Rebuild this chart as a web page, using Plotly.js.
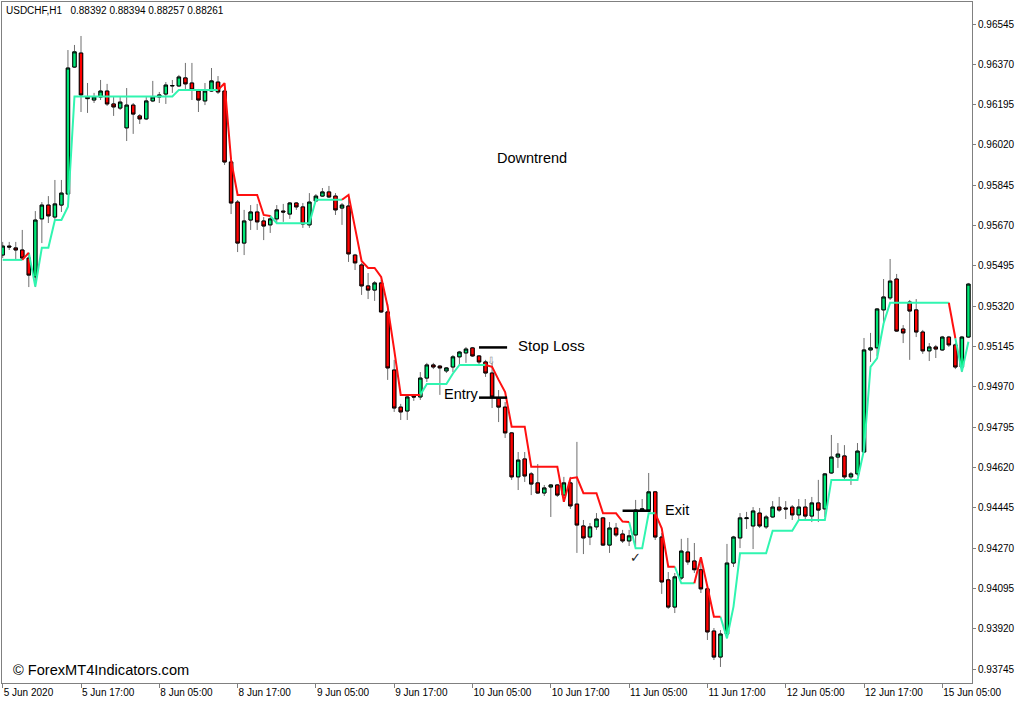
<!DOCTYPE html>
<html><head><meta charset="utf-8">
<script src="https://cdn.plot.ly/plotly-3.0.1.min.js"></script>
<style>html,body{margin:0;padding:0;background:#fff}#chart{width:1024px;height:704px}</style>
</head><body><div id="chart"></div>
<script>
// USDCHF H1 bars, 5 Jun 2020 05:00 .. 15 Jun 2020 09:00 (bar index 0..148)
const open = [0.95542,0.95581,0.95573,0.95564,0.95529,0.95447,0.95699,0.95759,0.95707,0.95759,
0.95807,0.96358,0.96419,0.96228,0.96215,0.96228,0.96254,0.96198,0.96180,0.96094,
0.96193,0.96146,0.96133,0.96211,0.96228,0.96241,0.96276,0.96276,0.96311,0.96289,
0.96254,0.96211,0.96254,0.96293,0.96254,0.95946,0.95772,0.95594,0.95694,0.95729,
0.95690,0.95673,0.95699,0.95733,0.95720,0.95768,0.95751,0.95673,0.95777,0.95798,
0.95816,0.95798,0.95746,0.95755,0.95542,0.95499,0.95408,0.95390,0.95421,0.95295,
0.95043,0.94882,0.94865,0.94930,0.94926,0.95008,0.95065,0.95060,0.95039,0.95056,
0.95100,0.95117,0.95139,0.95104,0.95078,0.95030,0.94922,0.94882,0.94770,0.94579,
0.94657,0.94592,0.94553,0.94509,0.94535,0.94544,0.94500,0.94553,0.94461,0.94366,
0.94318,0.94362,0.94401,0.94283,0.94357,0.94331,0.94301,0.94327,0.94435,0.94435,
0.94514,0.94318,0.94132,0.94014,0.94140,0.94253,0.94214,0.94176,0.94093,0.93910,
0.93797,0.93897,0.94205,0.94314,0.94398,0.94366,0.94422,0.94362,0.94405,0.94448,
0.94444,0.94448,0.94414,0.94448,0.94409,0.94466,0.94440,0.94596,0.94665,0.94670,
0.94579,0.94592,0.94687,0.95130,0.95139,0.95304,0.95356,0.95438,0.95221,0.95338,
0.95304,0.95208,0.95126,0.95143,0.95130,0.95186,0.95152,0.95056,0.95186];
const high = [0.95599,0.95599,0.95599,0.95651,0.95551,0.95733,0.95772,0.95798,0.95868,0.95868,
0.96432,0.96454,0.96493,0.96289,0.96246,0.96302,0.96285,0.96228,0.96228,0.96267,
0.96202,0.96154,0.96228,0.96298,0.96250,0.96293,0.96302,0.96324,0.96376,0.96376,
0.96263,0.96289,0.96354,0.96319,0.96263,0.95955,0.95781,0.95738,0.95759,0.95764,
0.95707,0.95716,0.95759,0.95764,0.95772,0.95772,0.95768,0.95811,0.95807,0.95833,
0.95842,0.95811,0.95768,0.95803,0.95547,0.95508,0.95464,0.95429,0.95434,0.95329,
0.95087,0.94896,0.94935,0.94939,0.95034,0.95074,0.95074,0.95065,0.95056,0.95108,
0.95126,0.95143,0.95143,0.95108,0.95087,0.95074,0.94956,0.94904,0.94774,0.94687,
0.94687,0.94600,0.94635,0.94544,0.94548,0.94548,0.94579,0.94579,0.94731,0.94392,
0.94379,0.94422,0.94405,0.94383,0.94379,0.94349,0.94349,0.94479,0.94483,0.94596,
0.94518,0.94336,0.94166,0.94162,0.94310,0.94314,0.94292,0.94227,0.94101,0.93923,
0.93914,0.94288,0.94323,0.94422,0.94427,0.94448,0.94444,0.94414,0.94474,0.94492,
0.94474,0.94457,0.94483,0.94483,0.94492,0.94566,0.94596,0.94761,0.94726,0.94717,
0.94600,0.94726,0.95182,0.95204,0.95312,0.95438,0.95525,0.95460,0.95238,0.95347,
0.95351,0.95217,0.95160,0.95152,0.95191,0.95191,0.95160,0.95191,0.95421];
const low = [0.95529,0.95564,0.95521,0.95521,0.95403,0.95403,0.95594,0.95681,0.95694,0.95729,
0.95803,0.96354,0.96163,0.96159,0.96202,0.96215,0.96189,0.96146,0.96172,0.96037,
0.96068,0.96111,0.96128,0.96206,0.96202,0.96198,0.96246,0.96272,0.96259,0.96215,
0.96163,0.96193,0.96250,0.96241,0.95933,0.95720,0.95555,0.95542,0.95651,0.95651,
0.95607,0.95638,0.95677,0.95686,0.95699,0.95738,0.95660,0.95660,0.95772,0.95794,
0.95790,0.95716,0.95673,0.95512,0.95477,0.95369,0.95351,0.95343,0.95291,0.95000,
0.94861,0.94826,0.94826,0.94909,0.94913,0.94991,0.95047,0.94935,0.95030,0.95034,
0.95065,0.95074,0.95100,0.95065,0.95013,0.94878,0.94817,0.94748,0.94566,0.94522,
0.94557,0.94500,0.94505,0.94496,0.94405,0.94492,0.94492,0.94440,0.94249,0.94244,
0.94283,0.94349,0.94279,0.94249,0.94318,0.94292,0.94279,0.94279,0.94427,0.94427,
0.94305,0.94071,0.94006,0.93988,0.94132,0.94197,0.94162,0.94075,0.93871,0.93784,
0.93754,0.93893,0.94188,0.94270,0.94353,0.94266,0.94357,0.94353,0.94401,0.94427,
0.94396,0.94392,0.94392,0.94392,0.94383,0.94383,0.94405,0.94592,0.94618,0.94566,
0.94544,0.94583,0.94683,0.95078,0.95104,0.95247,0.95347,0.95208,0.95160,0.95087,
0.95186,0.95113,0.95082,0.95095,0.95126,0.95143,0.95047,0.95034,0.95182];
const close = [0.95581,0.95577,0.95564,0.95529,0.95455,0.95694,0.95759,0.95712,0.95764,0.95811,
0.96354,0.96424,0.96237,0.96221,0.96228,0.96254,0.96198,0.96185,0.96206,0.96193,
0.96154,0.96133,0.96211,0.96228,0.96237,0.96280,0.96278,0.96315,0.96285,0.96259,
0.96215,0.96254,0.96298,0.96250,0.95946,0.95768,0.95594,0.95690,0.95729,0.95686,
0.95668,0.95699,0.95738,0.95729,0.95768,0.95751,0.95677,0.95772,0.95798,0.95816,
0.95794,0.95738,0.95759,0.95547,0.95508,0.95408,0.95390,0.95421,0.95295,0.95052,
0.94878,0.94861,0.94926,0.94926,0.95008,0.95065,0.95056,0.95052,0.95052,0.95100,
0.95121,0.95134,0.95104,0.95078,0.95030,0.94926,0.94882,0.94770,0.94579,0.94652,
0.94583,0.94548,0.94509,0.94531,0.94544,0.94500,0.94553,0.94453,0.94370,0.94314,
0.94362,0.94396,0.94283,0.94357,0.94327,0.94301,0.94323,0.94435,0.94440,0.94514,
0.94318,0.94123,0.94014,0.94145,0.94257,0.94210,0.94176,0.94093,0.93906,0.93797,
0.93897,0.94205,0.94318,0.94401,0.94401,0.94431,0.94366,0.94405,0.94448,0.94435,
0.94440,0.94414,0.94448,0.94409,0.94466,0.94435,0.94592,0.94665,0.94678,0.94579,
0.94592,0.94691,0.95130,0.95139,0.95308,0.95360,0.95429,0.95212,0.95204,0.95299,
0.95208,0.95126,0.95143,0.95134,0.95186,0.95152,0.95056,0.95186,0.95416];

// trailing stop line value per bar
const stopLine = [0.95521,0.95521,0.95521,0.95521,0.95552,0.95405,0.95574,0.95574,0.95694,0.95694,
0.95752,0.96230,0.96230,0.96230,0.96230,0.96230,0.96230,0.96230,0.96230,0.96230,
0.96230,0.96230,0.96230,0.96230,0.96230,0.96230,0.96230,0.96259,0.96259,0.96259,
0.96259,0.96259,0.96259,0.96259,0.96288,0.95955,0.95803,0.95803,0.95803,0.95803,
0.95716,0.95712,0.95680,0.95680,0.95680,0.95680,0.95680,0.95680,0.95782,0.95782,
0.95782,0.95782,0.95782,0.95803,0.95660,0.95516,0.95486,0.95486,0.95447,0.95318,
0.95130,0.94935,0.94935,0.94935,0.94935,0.94982,0.94982,0.94982,0.94982,0.95028,
0.95065,0.95065,0.95065,0.95065,0.95065,0.95057,0.95000,0.94947,0.94797,0.94797,
0.94797,0.94623,0.94623,0.94623,0.94623,0.94623,0.94471,0.94573,0.94577,0.94508,
0.94508,0.94508,0.94421,0.94421,0.94421,0.94385,0.94383,0.94269,0.94269,0.94421,
0.94421,0.94356,0.94189,0.94189,0.94117,0.94117,0.94117,0.94230,0.94102,0.93972,
0.93972,0.93878,0.94016,0.94247,0.94247,0.94247,0.94247,0.94247,0.94345,0.94345,
0.94345,0.94345,0.94392,0.94392,0.94392,0.94392,0.94392,0.94566,0.94566,0.94566,
0.94566,0.94566,0.94696,0.95057,0.95094,0.95245,0.95335,0.95335,0.95335,0.95335,
0.95335,0.95335,0.95335,0.95335,0.95335,0.95335,0.95181,0.95036,0.95166];
// direction of the stop line: [first bar of run, 'u' = uptrend (aqua) / 'd' = downtrend (red)]
const trendRuns = [[1,'u'],[4,'d'],[5,'u'],[34,'d'],[42,'u'],[53,'d'],[65,'u'],[75,'d'],
[97,'u'],[101,'d'],[104,'u'],[107,'d'],[111,'u'],[146,'d'],[147,'u']];

// trade levels
const levelNames = ['Stop Loss','Entry','Exit'];
const levelPrices = [0.95141, 0.94923, 0.94432];
const levelFrom = [73.0, 73.0, 95.0];
const levelTo = [77.3, 77.3, 99.3];

// axes
const xTickBars = [0,12,24,36,48,60,72,84,96,108,120,132,144];
const xTickLabels = ['5 Jun 2020','5 Jun 17:00','8 Jun 05:00','8 Jun 17:00','9 Jun 05:00','9 Jun 17:00',
'10 Jun 05:00','10 Jun 17:00','11 Jun 05:00','11 Jun 17:00','12 Jun 05:00','12 Jun 17:00','15 Jun 05:00'];
const yTicks = [0.96545,0.96370,0.96195,0.96020,0.95845,0.95670,0.95495,0.95320,0.95145,0.94970,
0.94795,0.94620,0.94445,0.94270,0.94095,0.93920,0.93745];

const UP_BODY = '#00E676', DN_BODY = '#FF0000', WICK = '#6F6F6F';
const AQUA = '#30F5B0', RED = '#FF1010';
const FONT = 'Liberation Sans, Arial, sans-serif';

const xs = open.map((_, i) => i);
const bodyHi = open.map((o, i) => Math.max(o, close[i]));
const bodyLo = open.map((o, i) => Math.min(o, close[i]));

const traces = [];
// wicks
traces.push({type:'candlestick', x:xs, open:open, high:high, low:low, close:close,
  increasing:{line:{color:WICK, width:1}, fillcolor:UP_BODY},
  decreasing:{line:{color:WICK, width:1}, fillcolor:DN_BODY},
  whiskerwidth:0, hoverinfo:'skip', showlegend:false});
// bodies
traces.push({type:'candlestick', x:xs, open:open, high:bodyHi, low:bodyLo, close:close,
  increasing:{line:{color:'#000', width:1}, fillcolor:UP_BODY},
  decreasing:{line:{color:'#000', width:1}, fillcolor:DN_BODY},
  whiskerwidth:0, hoverinfo:'skip', showlegend:false});

// stop line, colored per run
function trendAt(i){ let t='u'; for(const r of trendRuns){ if(i>=r[0]) t=r[1]; } return t; }
const segs = {u:{x:[],y:[]}, d:{x:[],y:[]}};
let runStart = 1;
for(let i=1;i<=stopLine.length;i++){
  if(i===stopLine.length || trendAt(i)!==trendAt(runStart)){
    const s = segs[trendAt(runStart)];
    for(let j=runStart-1;j<i;j++){ s.x.push(j); s.y.push(stopLine[j]); }
    s.x.push(null); s.y.push(null);
    runStart = i;
  }
}
traces.push({type:'scatter', mode:'lines', x:segs.u.x, y:segs.u.y, line:{color:AQUA, width:2},
  hoverinfo:'skip', showlegend:false, connectgaps:false});
traces.push({type:'scatter', mode:'lines', x:segs.d.x, y:segs.d.y, line:{color:RED, width:2},
  hoverinfo:'skip', showlegend:false, connectgaps:false});

// trade level lines
levelPrices.forEach((p, k) => {
  traces.push({type:'scatter', mode:'lines', x:[levelFrom[k], levelTo[k]], y:[p, p],
    line:{color:'#000', width:2.5}, hoverinfo:'skip', showlegend:false, name:levelNames[k]});
});

const ann = (text, x, y, xanchor, size, color) => ({text:text, xref:'paper', yref:'paper', x:x, y:y,
  xanchor:xanchor, yanchor:'middle', showarrow:false, font:{family:FONT, size:size, color:color||'#000'}});

const layout = {
  width:1024, height:704,
  margin:{l:2, r:52, t:2, b:21, pad:0},
  paper_bgcolor:'#fff', plot_bgcolor:'#fff',
  hovermode:false, showlegend:false, boxgap:0.25,
  title:{text:'USDCHF,H1\u00a0\u00a0\u00a00.88392 0.88394 0.88257 0.88261', x:6/1024, xref:'container',
    xanchor:'left', y:1-10/704, yref:'container', yanchor:'middle', font:{family:FONT, size:10, color:'#000'}},
  xaxis:{range:[-0.107, 148.55], rangeslider:{visible:false}, showgrid:false, zeroline:false,
    showline:true, mirror:true, linecolor:'#808080', linewidth:1,
    ticks:'outside', ticklen:4, tickcolor:'#808080', tickvals:xTickBars, ticktext:xTickLabels,
    ticklabelposition:'outside right', tickfont:{family:FONT, size:10, color:'#000'}, fixedrange:true},
  yaxis:{range:[0.936843, 0.966405], side:'right', showgrid:false, zeroline:false,
    showline:true, mirror:true, linecolor:'#808080', linewidth:1,
    ticks:'outside', ticklen:3, tickcolor:'#808080', tickvals:yTicks,
    ticktext:yTicks.map(v => v.toFixed(5)), tickfont:{family:FONT, size:10, color:'#000'}, fixedrange:true},
  annotations:[
    ann('Downtrend', 0.5464, 0.7709, 'center', 14.5),
    ann('Stop Loss', 0.5300, 0.4949, 'left', 15),
    ann('Entry', 0.4536, 0.4244, 'left', 14.5),
    ann('Exit', 0.6815, 0.2540, 'left', 14.5),
    ann('\u00a9 ForexMT4Indicators.com', 0.0093, 0.0191, 'left', 14.6),
    ann('\u2713', 0.6526, 0.1850, 'center', 13, '#222'),
    ann('\u21e9', 0.5041, 0.4743, 'center', 10, '#888')
  ]
};

Plotly.newPlot('chart', traces, layout, {staticPlot:true, displayModeBar:false});
</script>
</body></html>
